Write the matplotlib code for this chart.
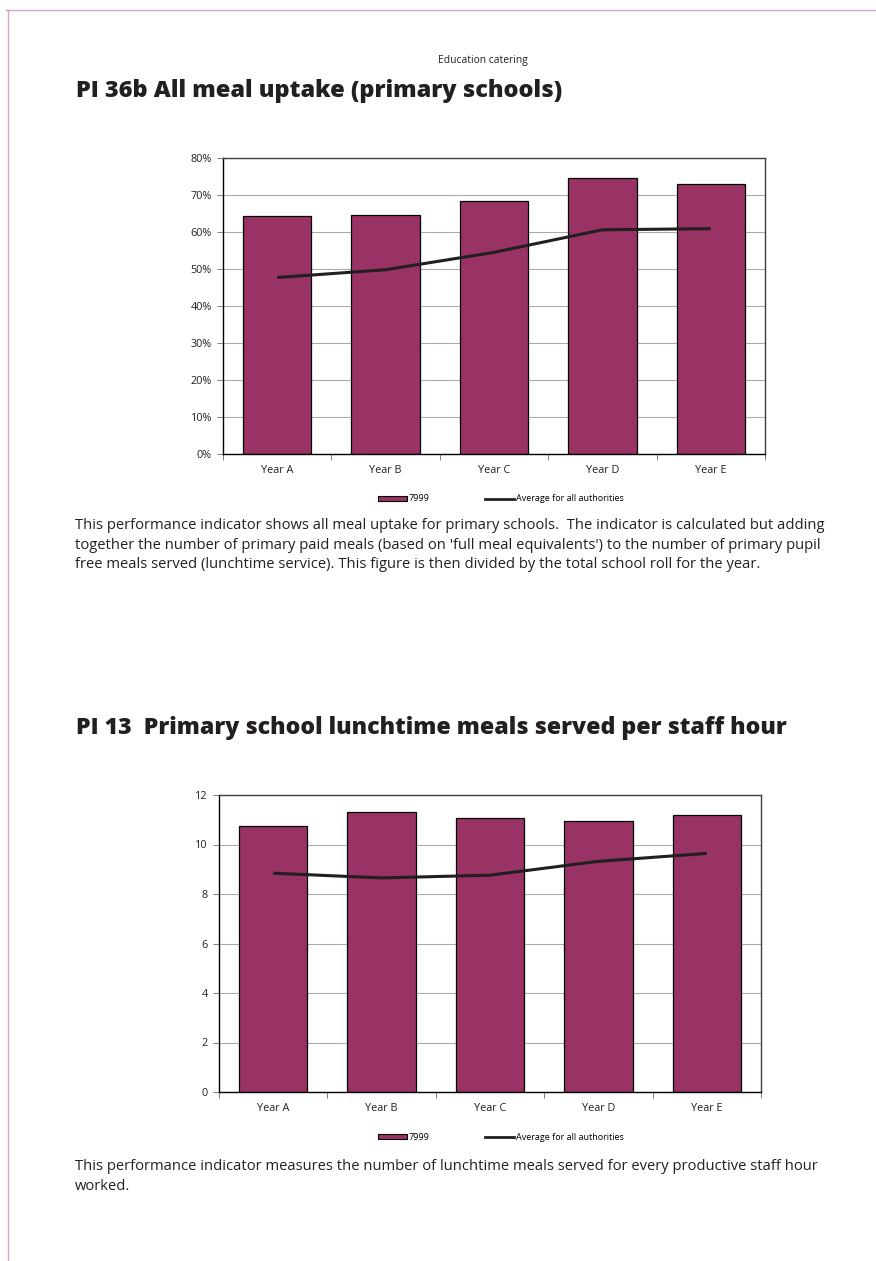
import matplotlib.pyplot as plt
import matplotlib.ticker as mticker
from matplotlib.lines import Line2D
from matplotlib.patches import Patch
import numpy as np

years = ["Year A", "Year B", "Year C", "Year D", "Year E"]

# PI 36b all meal uptake (primary), fractions
uptake_7999 = [0.644, 0.647, 0.683, 0.745, 0.730]
uptake_avg = [0.477, 0.498, 0.545, 0.606, 0.609]

# PI 13 meals per staff hour
meals_7999 = [10.74, 11.32, 11.07, 10.95, 11.18]
meals_avg = [8.84, 8.65, 8.76, 9.32, 9.64]

bar_color = "#993366"
grid_color = "#ababab"
text_color = "#231f20"
border_color = "#d4a6cf"

plt.rcParams['font.family'] = ['Open Sans', 'DejaVu Sans']

W, H = 876, 1261
fig = plt.figure(figsize=(W / 100, H / 100), dpi=100)


def fx(px):
	return px / W


def fy(py):
	return 1 - py / H


def draw_chart(rect, bars, line, ymax, ystep, fmt, legend_y):
	ax = fig.add_axes(rect)
	x = np.arange(len(years))
	ax.bar(x, bars, width=0.63, color=bar_color, edgecolor="black", linewidth=0.9, zorder=2)
	ax.plot(x, line, color=text_color, linewidth=2.2, zorder=3, solid_capstyle="butt")
	ax.set_xlim(-0.5, len(years) - 0.5)
	ax.set_ylim(0, ymax)
	ax.yaxis.set_major_locator(mticker.MultipleLocator(ystep))
	ax.yaxis.set_major_formatter(fmt)
	ax.grid(axis="y", color=grid_color, linewidth=0.8, zorder=0)
	ax.set_axisbelow(True)
	ax.set_xticks(x)
	ax.set_xticklabels(years, fontsize=7.8, color=text_color)
	ax.tick_params(axis="x", length=0, pad=8)
	ax.set_xticks(np.arange(-0.5, len(years), 1), minor=True)
	ax.tick_params(axis="x", which="minor", length=4, color="#808080", width=0.7)
	ax.tick_params(axis="y", labelsize=7.8, labelcolor=text_color, length=4, color="#808080", width=0.7, pad=4)
	for side in ["left", "bottom"]:
		ax.spines[side].set_color("black")
		ax.spines[side].set_linewidth(1.0)
	for side in ["top", "right"]:
		ax.spines[side].set_color("#404040")
		ax.spines[side].set_linewidth(1.0)

	handles = [Patch(facecolor=bar_color, edgecolor="black", linewidth=0.8),
		Line2D([0], [0], color=text_color, linewidth=2)]
	fig.legend(handles, ["7999", "Average for all authorities"], loc="center",
		bbox_to_anchor=(fx(501), fy(legend_y)), ncol=2, frameon=False, fontsize=6.5,
		handlelength=3.2, handleheight=0.55, handletextpad=0.15, columnspacing=6.2)
	return ax


# page border
fig.add_artist(Line2D([fx(6), 1], [fy(10), fy(10)], color=border_color, linewidth=1))
fig.add_artist(Line2D([fx(8), fx(8)], [fy(10), 0], color=border_color, linewidth=1))

fig.text(fx(483), fy(61), "Education catering", ha="center", va="center", fontsize=7.4, color=text_color)

fig.text(fx(76), fy(91), "PI 36b All meal uptake (primary schools)", ha="left", va="center",
	fontsize=16.9, fontweight="heavy", color=text_color)

draw_chart([fx(223), fy(454), fx(765 - 223), (454 - 158) / H], uptake_7999, uptake_avg,
	0.8, 0.1, mticker.PercentFormatter(1.0, decimals=0), 499)

para1 = ("This performance indicator shows all meal uptake for primary schools.  The indicator is calculated but adding\n"
	"together the number of primary paid meals (based on 'full meal equivalents') to the number of primary pupil\n"
	"free meals served (lunchtime service). This figure is then divided by the total school roll for the year.")
fig.text(fx(75), fy(518), para1, ha="left", va="top", fontsize=10.6, color=text_color, linespacing=1.41)

fig.text(fx(76), fy(728), "PI 13  Primary school lunchtime meals served per staff hour", ha="left", va="center",
	fontsize=16.7, fontweight="heavy", color=text_color)

draw_chart([fx(219), fy(1092), fx(761 - 219), (1092 - 795) / H], meals_7999, meals_avg,
	12, 2, mticker.FormatStrFormatter("%d"), 1137)

para2 = ("This performance indicator measures the number of lunchtime meals served for every productive staff hour\n"
	"worked.")
fig.text(fx(75), fy(1159), para2, ha="left", va="top", fontsize=10.6, color=text_color, linespacing=1.41)

fig.savefig("out.png", dpi=100)
